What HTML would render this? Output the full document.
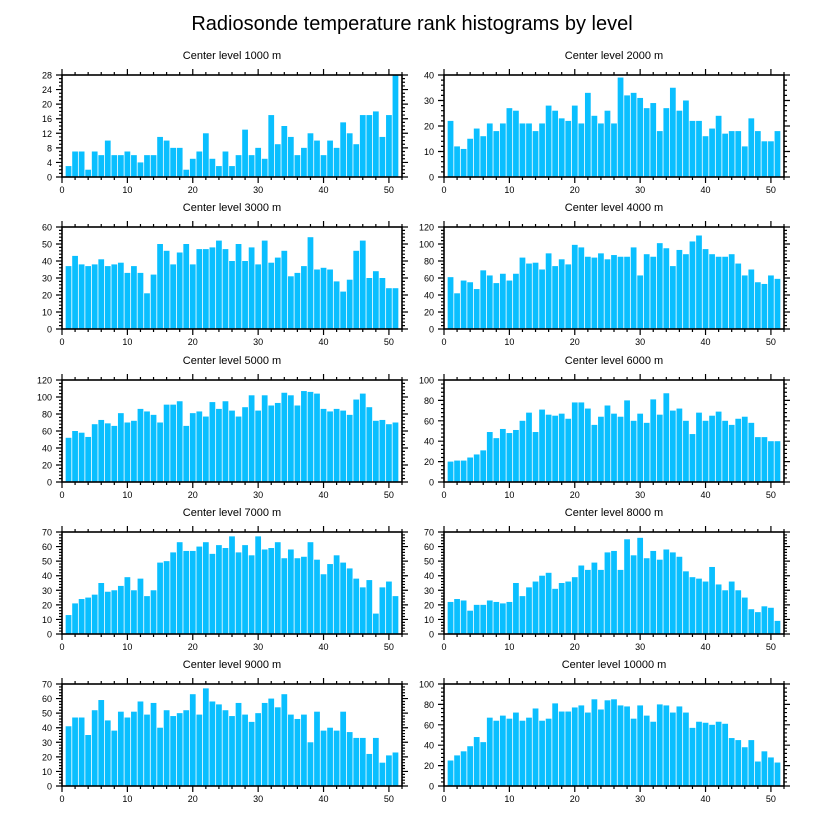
<!DOCTYPE html>
<html><head><meta charset="utf-8">
<style>
html,body{margin:0;padding:0;background:#fff;}
svg{display:block;font-family:"Liberation Sans",Arial,sans-serif;}
</style></head>
<body>
<svg id="chart" width="824" height="824" viewBox="0 0 824 824">
<text x="412" y="30" text-anchor="middle" font-size="20" fill="#000">Radiosonde temperature rank histograms by level</text>
</svg>
<script>
const ranks = [1,2,3,4,5,6,7,8,9,10,11,12,13,14,15,16,17,18,19,20,21,22,23,24,25,26,27,28,29,30,31,32,33,34,35,36,37,38,39,40,41,42,43,44,45,46,47,48,49,50,51];
const xTicks = [0,10,20,30,40,50];
const levelTitles = ["Center level 1000 m","Center level 2000 m","Center level 3000 m","Center level 4000 m","Center level 5000 m","Center level 6000 m","Center level 7000 m","Center level 8000 m","Center level 9000 m","Center level 10000 m"];
const counts1000 = [3,7,7,2,7,6,10,6,6,7,6,4,6,6,11,10,8,8,2,5,7,12,5,3,7,3,6,13,6,8,5,17,9,14,11,6,8,12,10,6,10,8,15,12,9,17,17,18,11,17,28];
const counts2000 = [22,12,11,15,19,16,21,18,21,27,26,21,21,18,21,28,26,23,22,28,21,33,24,21,26,21,39,32,33,31,27,29,18,27,35,26,30,22,22,16,19,24,17,18,18,12,23,18,14,14,18];
const counts3000 = [37,43,38,37,38,41,37,38,39,33,37,33,21,32,50,46,38,45,50,38,47,47,48,52,47,40,50,40,48,38,52,39,42,46,31,33,37,54,35,36,35,28,22,29,46,52,30,34,30,24,24];
const counts4000 = [61,42,57,55,47,69,63,54,65,57,65,84,77,78,70,89,74,82,76,99,96,85,84,89,82,87,85,85,96,63,88,85,101,95,74,93,88,103,110,94,88,85,85,88,77,63,70,55,53,63,59];
const counts5000 = [52,60,58,53,68,73,69,66,81,70,72,86,83,79,70,91,91,95,66,81,83,77,94,86,95,84,77,88,102,84,102,90,93,105,102,90,107,106,104,86,83,86,84,79,97,104,88,72,73,68,70];
const counts6000 = [20,21,21,24,27,31,49,43,52,48,51,60,68,49,71,66,65,67,62,78,78,72,56,64,75,67,64,80,60,67,58,81,66,87,70,72,60,47,68,60,65,69,60,56,62,64,58,44,44,40,40];
const counts7000 = [13,21,24,25,27,35,29,30,33,39,30,38,26,30,49,50,56,63,57,57,60,63,55,61,59,67,56,61,54,67,58,59,63,52,58,52,53,63,51,41,48,54,49,45,38,32,37,14,32,36,26];
const counts8000 = [22,24,23,16,20,20,23,22,21,22,35,26,32,36,40,42,31,35,36,39,47,44,49,44,56,57,44,65,54,66,52,57,51,58,56,53,43,39,38,36,46,34,30,36,30,25,17,15,19,18,9];
const counts9000 = [41,47,47,35,52,59,45,38,51,47,51,58,49,57,40,52,48,50,52,63,49,67,58,56,52,48,57,49,44,50,57,60,54,63,49,46,49,30,51,38,40,38,51,37,33,33,22,33,16,21,23];
const counts10000 = [25,30,34,39,48,43,67,64,69,66,72,64,67,76,64,66,81,73,73,77,79,72,85,75,84,85,79,78,66,79,69,63,80,79,72,78,72,57,63,62,60,63,61,47,45,38,45,24,34,28,23];
const yMaxes = [28,40,60,120,120,100,70,70,70,100];
const yTickSteps = [4,10,10,20,20,20,10,10,10,20];

const allCounts=[counts1000,counts2000,counts3000,counts4000,counts5000,counts6000,counts7000,counts8000,counts9000,counts10000];
const NS="http://www.w3.org/2000/svg";
const svg=document.getElementById('chart');
function mk(tag,attrs,parent){const e=document.createElementNS(NS,tag);for(const k in attrs)e.setAttribute(k,attrs[k]);(parent||svg).appendChild(e);return e;}
const PW=340,PH=102,XMAX=52;
const lefts=[62,444];
const tops=[75,227,380,532,684];
for(let p=0;p<10;p++){
  const L=lefts[p%2],T=tops[Math.floor(p/2)],B=T+PH,R=L+PW;
  const ymax=yMaxes[p],step=yTickSteps[p],data=allCounts[p];
  const g=mk('g',{});
  
  
  const xs=v=>L+v/XMAX*PW, ys=v=>B-v/ymax*PH;
  const t=mk('text',{x:L+PW/2,y:T-16,'text-anchor':'middle','font-size':11},g);
  t.textContent=levelTitles[p];
  
  
  const bw=0.88*PW/XMAX;
  ranks.forEach((r,i)=>{
    const v=data[i];
    const b=mk('rect',{x:xs(r)-bw/2,y:ys(v),width:bw,height:B-ys(v),fill:'#0abfff'},g);
    
    
  });
  const f=mk('rect',{x:L,y:T,width:PW,height:PH,fill:'none',stroke:'#000','stroke-width':1.6},g);
  
  
  let path='';
  for(let v=0;v<=XMAX;v+=2){
    const x=xs(v),maj=v%10===0,len=maj?6:3;
    path+=`M${x},${B}v${len}M${x},${T}v${-len}`;
  }
  const minStep=step/ (step===4?4:5);
  for(let k=0;k*minStep<=ymax+1e-9;k++){
    const v=k*minStep,y=ys(v),maj=Math.abs(v/step-Math.round(v/step))<1e-6,len=maj?6:3;
    path+=`M${L},${y}h${-len}M${R},${y}h${len}`;
  }
  const tk=mk('path',{d:path,stroke:'#000','stroke-width':1.2,fill:'none'},g);
  
  
  xTicks.forEach(v=>{
    const e=mk('text',{x:xs(v),y:B+16,'text-anchor':'middle','font-size':9},g);
    e.textContent=v;
    
    
  });
  for(let v=0;v<=ymax;v+=step){
    const e=mk('text',{x:L-10,y:ys(v)+3.5,'text-anchor':'end','font-size':9},g);
    e.textContent=v;
    
    
  }
}
</script>
</body></html>
